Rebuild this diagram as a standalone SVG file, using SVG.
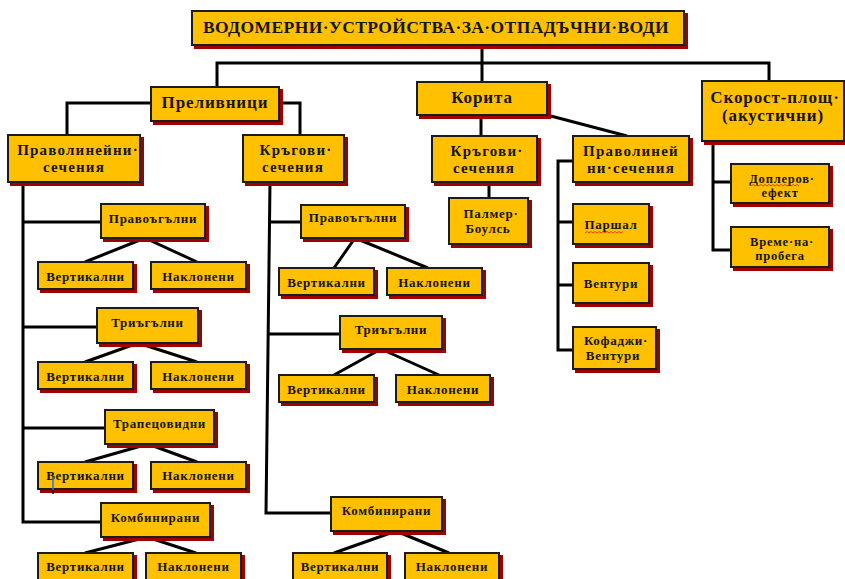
<svg xmlns="http://www.w3.org/2000/svg" width="845" height="579" viewBox="0 0 845 579">
<style>
.bx{fill:#FFC000;stroke:#1c1c1c;stroke-width:2;filter:url(#sh)}
.c{fill:none;stroke:#000;stroke-width:3;stroke-linejoin:miter}
text{font-family:"Liberation Serif","Times New Roman",serif;font-weight:bold;fill:#141400;text-anchor:middle}
.t0{font-size:17.5px;letter-spacing:0.4px}
.t1{font-size:17px;letter-spacing:0.9px}
.t2{font-size:15px;letter-spacing:1.2px}
.t3{font-size:13px;letter-spacing:0.7px}
.t4{font-size:12.5px;letter-spacing:0.8px}
.sq{fill:none;stroke:#e02020;stroke-width:0.8}
</style>
<defs>
<filter id="sh" x="-10%" y="-20%" width="130%" height="150%">
<feDropShadow dx="3" dy="3" stdDeviation="0.4" flood-color="#A00000" flood-opacity="1"/>
</filter>
</defs>
<rect width="845" height="579" fill="#fff"/>
<g id="connectors">
<path class="c" d="M482,45 V82"/>
<path class="c" d="M217,87 V63 H769 V81"/>
<path class="c" d="M151,103 H67 V135"/>
<path class="c" d="M279,103 H300 V135"/>
<path class="c" d="M23,182 V522 H101 M23,222 H101 M23,327 H97 M23,428 H105"/>
<path class="c" d="M145,238 L85,262 M145,238 L197,262 M138,343 L85,362 M138,343 L197,362 M148,444 L85,462 M148,444 L197,462 M147,537 L85,553 M147,537 L196,553"/>
<path class="c" d="M270,182 L266,513 H331 M269,222 H301 M268,334 H340"/>
<path class="c" d="M355,238 L334,268 M355,238 L428,268 M381,349 L334,375 M381,349 L439,375 M396,531 L334,553 M396,531 L449,553"/>
<path class="c" d="M481,115 V136 M547,115 L627,136 M489,182 V198"/>
<path class="c" d="M573,161 H558 V350 H573 M558,222 H573 M558,285 H573"/>
<path class="c" d="M713,141 V250 H731 M713,182 H731"/>
</g>
<g id="n-title"><rect class="bx" x="192" y="11" width="492" height="34"/><text class="t0" x="436" y="33">ВОДОМЕРНИ·УСТРОЙСТВА·ЗА·ОТПАДЪЧНИ·ВОДИ</text></g>
<g id="n-prelivnici"><rect class="bx" x="151" y="87" width="128" height="34"/><text class="t1" x="215" y="108">Преливници</text></g>
<g id="n-korita"><rect class="bx" x="417" y="82" width="130" height="33"/><text class="t1" x="482" y="103">Корита</text></g>
<g id="n-skorost"><rect class="bx" x="702" y="81" width="142" height="60"/><text class="t1" x="775" y="103">Скорост-площ·</text><text class="t1" x="773" y="121">(акустични)</text></g>
<g id="n-pravolin-L"><rect class="bx" x="8" y="135" width="132" height="47"/><text class="t2" x="78" y="155">Праволинейни·</text><text class="t2" x="74" y="172">сечения</text></g>
<g id="n-kragovi-L"><rect class="bx" x="243" y="135" width="101" height="47"/><text class="t2" x="296" y="155">Кръгови·</text><text class="t2" x="293" y="172">сечения</text></g>
<g id="n-kragovi-R"><rect class="bx" x="432" y="136" width="105" height="46"/><text class="t2" x="487" y="156">Кръгови·</text><text class="t2" x="484" y="173">сечения</text></g>
<g id="n-pravolin-R"><rect class="bx" x="573" y="136" width="116" height="46"/><text class="t2" x="631" y="156">Праволиней</text><text class="t2" x="631" y="173">ни·сечения</text></g>
<g id="n-palmer"><rect class="bx" x="449" y="198" width="79" height="46"/><text class="t3" x="491" y="218">Палмер·</text><text class="t3" x="488" y="233">Боулсь</text></g>
<g id="n-parshal"><rect class="bx" x="573" y="204" width="76" height="40"/><text class="t3" x="611" y="229">Паршал</text></g>
<g id="n-venturi"><rect class="bx" x="573" y="263" width="76" height="40"/><text class="t3" x="611" y="288">Вентури</text></g>
<g id="n-kofadzhi"><rect class="bx" x="573" y="327" width="83" height="42"/><text class="t3" x="616" y="345">Кофаджи·</text><text class="t3" x="613" y="360">Вентури</text></g>
<g id="n-doppler"><rect class="bx" x="731" y="164" width="98" height="39"/><text class="t4" x="782" y="183">Доплеров·</text><text class="t4" x="780" y="197">ефект</text></g>
<g id="n-vreme"><rect class="bx" x="731" y="227" width="98" height="40"/><text class="t4" x="782" y="246">Време·на·</text><text class="t4" x="780" y="260">пробега</text></g>
<g id="n-L-pravoag"><rect class="bx" x="101" y="204" width="104" height="34"/><text class="t3" x="153" y="223">Правоъгълни</text></g>
<g id="n-L-vert1"><rect class="bx" x="38" y="262" width="95" height="27"/><text class="t3" x="85.5" y="281">Вертикални</text></g>
<g id="n-L-nakl1"><rect class="bx" x="151" y="262" width="95" height="27"/><text class="t3" x="198.5" y="281">Наклонени</text></g>
<g id="n-L-triag"><rect class="bx" x="97" y="308" width="101" height="35"/><text class="t3" x="147.5" y="327">Триъгълни</text></g>
<g id="n-L-vert2"><rect class="bx" x="38" y="362" width="95" height="27"/><text class="t3" x="85.5" y="381">Вертикални</text></g>
<g id="n-L-nakl2"><rect class="bx" x="151" y="362" width="95" height="27"/><text class="t3" x="198.5" y="381">Наклонени</text></g>
<g id="n-L-trapec"><rect class="bx" x="105" y="410" width="109" height="34"/><text class="t3" x="159.5" y="428">Трапецовидни</text></g>
<g id="n-L-vert3"><rect class="bx" x="38" y="462" width="95" height="27"/><text class="t3" x="85.5" y="480">Вертикални</text></g>
<g id="n-L-nakl3"><rect class="bx" x="151" y="462" width="95" height="27"/><text class="t3" x="198.5" y="480">Наклонени</text></g>
<g id="n-L-komb"><rect class="bx" x="101" y="503" width="109" height="34"/><text class="t3" x="155.5" y="522">Комбинирани</text></g>
<g id="n-L-vert4"><rect class="bx" x="38" y="553" width="95" height="27"/><text class="t3" x="85.5" y="571">Вертикални</text></g>
<g id="n-L-nakl4"><rect class="bx" x="146" y="553" width="95" height="27"/><text class="t3" x="193.5" y="571">Наклонени</text></g>
<g id="n-M-pravoag"><rect class="bx" x="301" y="205" width="104" height="33"/><text class="t3" x="353" y="222">Правоъгълни</text></g>
<g id="n-M-vert1"><rect class="bx" x="279" y="268" width="95" height="27"/><text class="t3" x="326.5" y="287">Вертикални</text></g>
<g id="n-M-nakl1"><rect class="bx" x="387" y="268" width="95" height="27"/><text class="t3" x="434.5" y="287">Наклонени</text></g>
<g id="n-M-triag"><rect class="bx" x="340" y="316" width="102" height="33"/><text class="t3" x="391" y="334">Триъгълни</text></g>
<g id="n-M-vert2"><rect class="bx" x="279" y="375" width="95" height="27"/><text class="t3" x="326.5" y="394">Вертикални</text></g>
<g id="n-M-nakl2"><rect class="bx" x="396" y="375" width="94" height="27"/><text class="t3" x="443" y="394">Наклонени</text></g>
<g id="n-M-komb"><rect class="bx" x="331" y="497" width="111" height="34"/><text class="t3" x="386.5" y="515">Комбинирани</text></g>
<g id="n-M-vert3"><rect class="bx" x="293" y="553" width="94" height="27"/><text class="t3" x="340" y="571">Вертикални</text></g>
<g id="n-M-nakl3"><rect class="bx" x="405" y="553" width="94" height="27"/><text class="t3" x="452" y="571">Наклонени</text></g>
<path class="sq" d="M585,233 l2,-1.5 l2,1.5 l2,-1.5 l2,1.5 l2,-1.5 l2,1.5 l2,-1.5 l2,1.5 l2,-1.5 l2,1.5 l2,-1.5 l2,1.5 l2,-1.5 l2,1.5 l2,-1.5 l2,1.5 l2,-1.5 l2,1.5 l2,-1.5"/>
<path class="sq" d="M751,186 l2,-1.5 l2,1.5 l2,-1.5 l2,1.5 l2,-1.5 l2,1.5 l2,-1.5 l2,1.5 l2,-1.5 l2,1.5 l2,-1.5 l2,1.5 l2,-1.5 l2,1.5 l2,-1.5 l2,1.5 l2,-1.5 l2,1.5 l2,-1.5 l2,1.5 l2,-1.5 l2,1.5 l2,-1.5 l2,1.5"/>
<line x1="53" y1="477" x2="53" y2="490" stroke="#2a6cff" stroke-width="1.5"/>
<line x1="53" y1="490" x2="53" y2="494" stroke="#000" stroke-width="1.5"/>
</svg>
